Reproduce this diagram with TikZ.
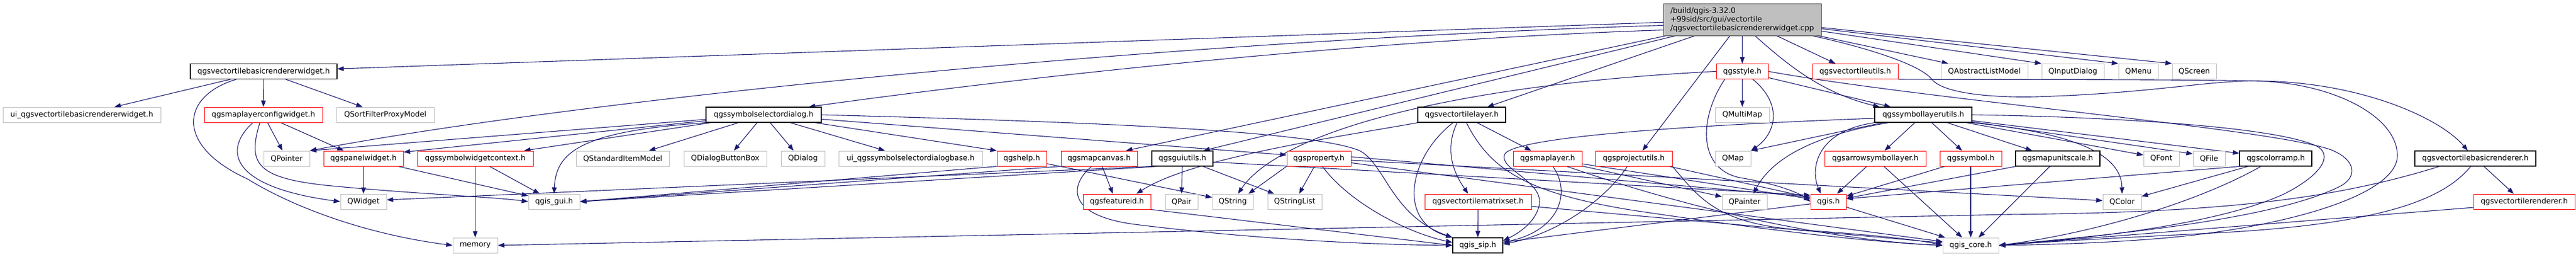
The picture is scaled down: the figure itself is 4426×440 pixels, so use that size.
\documentclass[tikz,border=0pt]{standalone}
\usepackage{fontspec}
\setmainfont{DejaVu Sans}
\usetikzlibrary{arrows.meta}
\pgfdeclarelayer{bg}
\pgfsetlayers{bg,main}
\definecolor{edgec}{HTML}{191970}
\definecolor{grayb}{HTML}{BFBFBF}
\definecolor{redb}{HTML}{FF0000}
\definecolor{rootb}{HTML}{404040}
\newcommand\nodefont{\fontsize{12.8}{15}\selectfont}
\tikzset{
  box/.style={draw, line width=1pt, minimum height=26pt, inner sep=0pt, font=\nodefont, text=black, fill=white},
  nb/.style={box, draw=black, line width=1.2pt},
  nr/.style={box, draw=redb},
  ng/.style={box, draw=grayb},
  e/.style={draw=edgec, line width=1.1pt, -{Triangle[length=11pt,width=8pt]}},
}
\begin{document}
\begin{tikzpicture}[x=1pt,y=-1pt]
\useasboundingbox (0,0) rectangle (4426,440);
% root
\node[box, draw=rootb, fill=grayb, text width=247pt, inner xsep=12pt, minimum height=55pt, align=left] (R) at (2993.5,33.5)
  {/build/qgis-3.32.0\\+99sid/src/gui/vectortile\\/qgsvectortilebasicrendererwidget.cpp};
% row 1
\node[nb, minimum width=252pt] (W) at (453,122.5) {qgsvectortilebasicrendererwidget.h};
\node[nr, minimum width=89pt] (style) at (2993.5,122.5) {qgsstyle.h};
\node[nr, minimum width=147pt] (vtu) at (3187.5,122.5) {qgsvectortileutils.h};
\node[ng, minimum width=149pt] (QALM) at (3409.5,122.5) {QAbstractListModel};
\node[ng, minimum width=107pt] (QID) at (3561.5,122.5) {QInputDialog};
\node[ng, minimum width=68pt] (QMenu) at (3674,122.5) {QMenu};
\node[ng, minimum width=76pt] (QScreen) at (3770,122.5) {QScreen};
% row 2
\node[ng, minimum width=271pt] (uiW) at (140.5,197) {ui\_qgsvectortilebasicrendererwidget.h};
\node[nr, minimum width=203pt] (MLCW) at (452.5,197) {qgsmaplayerconfigwidget.h};
\node[ng, minimum width=168pt] (QSFPM) at (662,197) {QSortFilterProxyModel};
\node[nb, minimum width=198pt] (SSD) at (1312,197) {qgssymbolselectordialog.h};
\node[nb, minimum width=151pt] (VTL) at (2511.5,197) {qgsvectortilelayer.h};
\node[ng, minimum width=93pt] (QMM) at (2993.5,197) {QMultiMap};
\node[nb, minimum width=167pt] (SLU) at (3304.5,197) {qgssymbollayerutils.h};
% row 3
\node[ng, minimum width=79pt] (QPointer) at (492.5,272) {QPointer};
\node[nr, minimum width=137pt] (panel) at (624.5,272) {qgspanelwidget.h};
\node[nr, minimum width=199pt] (SWC) at (816.5,272) {qgssymbolwidgetcontext.h};
\node[ng, minimum width=160pt] (QSIM) at (1070,272) {QStandardItemModel};
\node[ng, minimum width=142pt] (QDBB) at (1246,272) {QDialogButtonBox};
\node[ng, minimum width=75pt] (QDialog) at (1379.5,272) {QDialog};
\node[ng, minimum width=247pt] (uiSSD) at (1564.5,272) {ui\_qgssymbolselectordialogbase.h};
\node[nr, minimum width=85pt] (help) at (1755.5,272) {qgshelp.h};
\node[nr, minimum width=131pt] (canvas) at (1888.5,272) {qgsmapcanvas.h};
\node[nb, minimum width=105pt] (gutils) at (2031.5,272) {qgsguiutils.h};
\node[nr, minimum width=110pt] (prop) at (2266,272) {qgsproperty.h};
\node[nr, minimum width=118pt] (mlayer) at (2659,272) {qgsmaplayer.h};
\node[nr, minimum width=132pt] (putils) at (2807,272) {qgsprojectutils.h};
\node[ng, minimum width=61pt] (QMap) at (2977.5,272) {QMap};
\node[nr, minimum width=174pt] (arrow) at (3222,272) {qgsarrowsymbollayer.h};
\node[nr, minimum width=106pt] (symbol) at (3386,272) {qgssymbol.h};
\node[nb, minimum width=145pt] (mus) at (3535.5,272) {qgsmapunitscale.h};
\node[ng, minimum width=61pt] (QFont) at (3713.5,272) {QFont};
\node[ng, minimum width=55pt] (QFile) at (3795.5,272) {QFile};
\node[nb, minimum width=124pt] (cramp) at (3910,272) {qgscolorramp.h};
\node[nb, minimum width=208pt] (bren) at (4253,272) {qgsvectortilebasicrenderer.h};
% row 4
\node[ng, minimum width=79pt] (QWidget) at (624.5,346) {QWidget};
\node[ng, minimum width=88pt] (qgui) at (952,346) {qgis\_gui.h};
\node[nr, minimum width=116pt] (fid) at (1919,346) {qgsfeatureid.h};
\node[ng, minimum width=56pt] (QPair) at (2030,346) {QPair};
\node[ng, minimum width=70pt] (QString) at (2118,346) {QString};
\node[ng, minimum width=93pt] (QSL) at (2224.5,346) {QStringList};
\node[nr, minimum width=183pt] (tms) at (2539.5,346) {qgsvectortilematrixset.h};
\node[ng, minimum width=77pt] (QPainter) at (2997.5,346) {QPainter};
\node[nr, minimum width=61pt] (qgish) at (3141.5,346) {qgis.h};
\node[ng, minimum width=66pt] (QColor) at (3646,346) {QColor};
\node[nr, minimum width=174pt] (vtr) at (4337,346) {qgsvectortilerenderer.h};
% row 5
\node[ng, minimum width=77pt] (memory) at (816.5,421) {memory};
\node[nb, minimum width=86pt] (qsip) at (2539,421) {qgis\_sip.h};
\node[ng, minimum width=96pt] (qcore) at (3386,421) {qgis\_core.h};

\begin{pgfonlayer}{bg}
\fill[white] (0,0) rectangle (4426,440);
% root edges
\draw[e] (R) -- (W);
\draw[e] ([yshift=-10pt]R.west) .. controls (2000,70) and (1000,170) .. (QPointer.north east);
\draw[e] ([yshift=-18pt]R.west) .. controls (2300,70) and (1700,140) .. ([xshift=-22pt]SSD.north east);
\draw[e] (R) -- ([xshift=-20pt]canvas.north east);
\draw[e] (R) -- ([xshift=-17pt]gutils.north east);
\draw[e] (R) -- ([xshift=44pt]VTL.north);
\draw[e] (R) -- ([xshift=15pt]putils.north);
\draw[e] (R) -- (style);
\draw[e] (R) -- ([xshift=-34pt]vtu.north);
\draw[e] ([xshift=22pt]R.south) .. controls (3070,110) and (3130,160) .. ([xshift=-75pt]SLU.north);
\draw[e] (R) -- ([xshift=-62pt]QALM.north);
\draw[e] (R) -- (QID.north west);
\draw[e] (R) -- (QMenu.north west);
\draw[e] (R) -- (QScreen.north west);
\draw[e] ([xshift=-15pt]R.south east) .. controls (3200,80) and (3300,110) .. (3320,137)
  .. controls (3340,160) and (3420,168) .. (3500,166)
  .. controls (3700,160) and (3800,137) .. (3880,139)
  .. controls (4050,140) and (4190,200) .. ([xshift=-13pt]bren.north);
% widget
\draw[e] (W) -- ([xshift=56pt]uiW.north);
\draw[e] (W) -- (MLCW);
\draw[e] (W) -- ([xshift=-39pt]QSFPM.north);
\draw[e] ([xshift=-47pt]W.south) .. controls (310,165) and (300,250) .. (425,307)
  .. controls (520,365) and (650,405) .. (memory.west);
% map layer config widget
\draw[e] (MLCW) -- (QPointer);
\draw[e] ([xshift=30pt]MLCW.south) -- ([xshift=-34pt]panel.north);
\draw[e] ([xshift=-18pt]MLCW.south) .. controls (385,255) and (390,320) .. (QWidget.west);
\draw[e] ([xshift=-6pt]MLCW.south) .. controls (425,280) and (440,305) .. (560,318)
  .. controls (700,332) and (850,338) .. (qgui.west);
% panel, symbol widget context
\draw[e] (panel) -- (QWidget);
\draw[e] (panel) -- (qgui);
\draw[e] (SWC) -- (qgui);
\draw[e] (SWC) -- (memory);
% symbol selector dialog
\draw[e] (SSD) -- (QPointer.north east);
\draw[e] (SSD) -- ([yshift=11pt]panel.east);
\draw[e] (SSD) -- ([xshift=-16pt]SWC.north east);
\draw[e] (SSD.south west) .. controls (1000,225) and (955,260) .. (qgui.north);
\draw[e] (SSD) -- ([xshift=45pt]QSIM.north);
\draw[e] (SSD) -- ([xshift=15pt]QDBB.north);
\draw[e] (SSD) -- ([xshift=-16pt]QDialog.north);
\draw[e] (SSD) -- ([xshift=-44pt]uiSSD.north);
\draw[e] (SSD) -- (help.north west);
\draw[e] (SSD) -- ([yshift=6pt]prop.west);
\draw[e] (SSD.east) .. controls (1900,210) and (2250,225) .. (2335,258)
  .. controls (2380,280) and (2390,370) .. (qsip.north west);
% help, canvas, guiutils
\draw[e] (help.south west) -- (qgui.east);
\draw[e] (help) -- (QString);
\draw[e] (canvas.south west) -- (qgui.east);
\draw[e] (canvas) -- ([xshift=-7pt]fid.north);
\draw[e] ([xshift=-13pt]canvas.south) .. controls (1835,320) and (1835,370) .. (1950,385)
  .. controls (2150,410) and (2350,420) .. (qsip.west);
\draw[e] ([xshift=10pt]gutils.south west) -- (qgui.east);
\draw[e] (gutils.south west) -- ([yshift=3pt]QWidget.east);
\draw[e] (gutils) -- (QPair);
\draw[e] (gutils) -- (QSL);
\draw[e] ([yshift=-6pt]gutils.east) -- ([yshift=11pt]qgish.west);
\draw[e] (fid.south east) -- (qsip.west);
% property
\draw[e] (prop) -- (QSL);
\draw[e] (prop.south west) -- ([xshift=27pt]QString.north);
\draw[e] ([xshift=6pt]prop.south) .. controls (2320,350) and (2420,400) .. ([yshift=5pt]qsip.west);
\draw[e] (prop) -- (qcore);
\draw[e] ([yshift=3pt]prop.east) -- ([yshift=8pt]qgish.west);
\draw[e] (prop) -- (QColor);
% vector tile layer
\draw[e] ([xshift=-8pt]VTL.south) .. controls (2480,260) and (2500,300) .. ([xshift=-17pt]tms.north);
\draw[e] (VTL) -- ([xshift=-28pt]mlayer.north);
\draw[e] ([xshift=-15pt]VTL.south) .. controls (2420,270) and (2400,380) .. (qsip.north west);
\draw[e] ([xshift=8pt]VTL.south) .. controls (2560,290) and (2620,330) .. (2800,360)
  .. controls (3000,390) and (3200,415) .. (qcore.west);
\draw[e] (VTL.south west) .. controls (2300,235) and (2050,270) .. ([xshift=-25pt]fid.north east);
\draw[e] (tms) -- (qsip);
\draw[e] (tms) -- (qcore);
% map layer, project utils
\draw[e] ([xshift=9pt]mlayer.south) .. controls (2700,330) and (2680,395) .. ([yshift=5pt]qsip.east);
\draw[e] ([xshift=33pt]mlayer.south) .. controls (2850,340) and (3100,410) .. (qcore.west);
\draw[e] (mlayer) -- (QPainter);
\draw[e] (mlayer) -- (qgish);
\draw[e] ([xshift=-11pt]putils.south) .. controls (2760,340) and (2680,400) .. ([yshift=2pt]qsip.east);
\draw[e] (putils.south east) .. controls (2920,340) and (2950,385) .. (3100,395)
  .. controls (3220,403) and (3300,412) .. (qcore.west);
\draw[e] (putils) -- (qgish);
% style
\draw[e] (style) -- (QMM);
\draw[e] ([xshift=18pt]style.south) .. controls (3065,180) and (3050,230) .. (QMap.north east);
\draw[e] (style) -- ([xshift=-56pt]SLU.north);
\draw[e] ([xshift=-30pt]style.south) .. controls (2920,200) and (2915,290) .. (2990,305)
  .. controls (3050,315) and (3090,330) .. (qgish.west);
\draw[e] (style.west) .. controls (2500,145) and (2200,225) .. ([xshift=9pt]QString.north);
\draw[e] (style.east) .. controls (3300,170) and (3900,220) .. (4005,257)
  .. controls (4050,275) and (4050,305) .. (4020,320)
  .. controls (3900,380) and (3600,405) .. (qcore.east);
% symbol layer utils
\draw[e] ([xshift=-70pt]SLU.south) -- (QMap.north east);
\draw[e] ([yshift=-6pt]SLU.west) .. controls (2900,215) and (2600,235) .. (2585,265)
  .. controls (2575,290) and (2650,310) .. (2645,350)
  .. controls (2640,380) and (2610,400) .. ([yshift=8pt]qsip.east);
\draw[e] ([xshift=-60pt]SLU.south) .. controls (3100,235) and (3040,280) .. ([xshift=15pt]QPainter.north);
\draw[e] (SLU.south west) .. controls (3120,225) and (3110,290) .. ([xshift=-13pt]qgish.north);
\draw[e] (SLU) -- ([xshift=16pt]arrow.north);
\draw[e] (SLU) -- ([xshift=-15pt]symbol.north);
\draw[e] (SLU) -- ([xshift=-44pt]mus.north);
\draw[e] (SLU) -- ([yshift=6pt]QFont.west);
\draw[e] (SLU) -- ([yshift=8pt]QFile.west);
\draw[e] (SLU) -- ([yshift=9pt]cramp.west);
\draw[e] (SLU.south east) .. controls (3580,230) and (3645,270) .. (QColor.north);
\draw[e] (SLU.east) .. controls (3600,200) and (3900,215) .. (3979,250)
  .. controls (4010,265) and (3990,300) .. (3924,333)
  .. controls (3800,390) and (3550,412) .. (qcore.east);
% symbol level
\draw[e] (arrow) -- (qgish);
\draw[e] (arrow) -- (qcore);
\draw[e] (symbol) -- (qgish);
\draw[e] (symbol) -- (qcore);
\draw[e] (mus) -- (qgish);
\draw[e] (mus) -- (qcore);
\draw[e] (qgish) -- (qcore);
\draw[e] (qgish) -- (qsip);
% color ramp
\draw[e] (cramp.south west) -- ([yshift=5pt]qgish.east);
\draw[e] ([xshift=15pt]cramp.south west) -- ([yshift=9pt]QColor.east);
\draw[e] ([xshift=37pt]cramp.south west) .. controls (3780,345) and (3600,400) .. (qcore.east);
% vector tile utils
\draw[e] (vtu.south east) .. controls (3500,137) and (3750,136) .. (3880,139)
  .. controls (4010,143) and (4119,200) .. (4119,267)
  .. controls (4119,340) and (3900,395) .. (3700,410)
  .. controls (3600,418) and (3500,420) .. (qcore.east);
% basic renderer
\draw[e] (bren) -- ([xshift=-18pt]vtr.north);
\draw[e] ([xshift=-62pt]bren.south) .. controls (4000,345) and (3800,365) .. (3450,368) -- (memory.east);
\draw[e] ([xshift=-8pt]bren.south) .. controls (4200,340) and (4100,385) .. (3800,400)
  .. controls (3600,410) and (3500,416) .. (qcore.east);
\draw[e] ([yshift=-10pt]vtr.west) -- (qcore.east);
\end{pgfonlayer}
\end{tikzpicture}
\end{document}
